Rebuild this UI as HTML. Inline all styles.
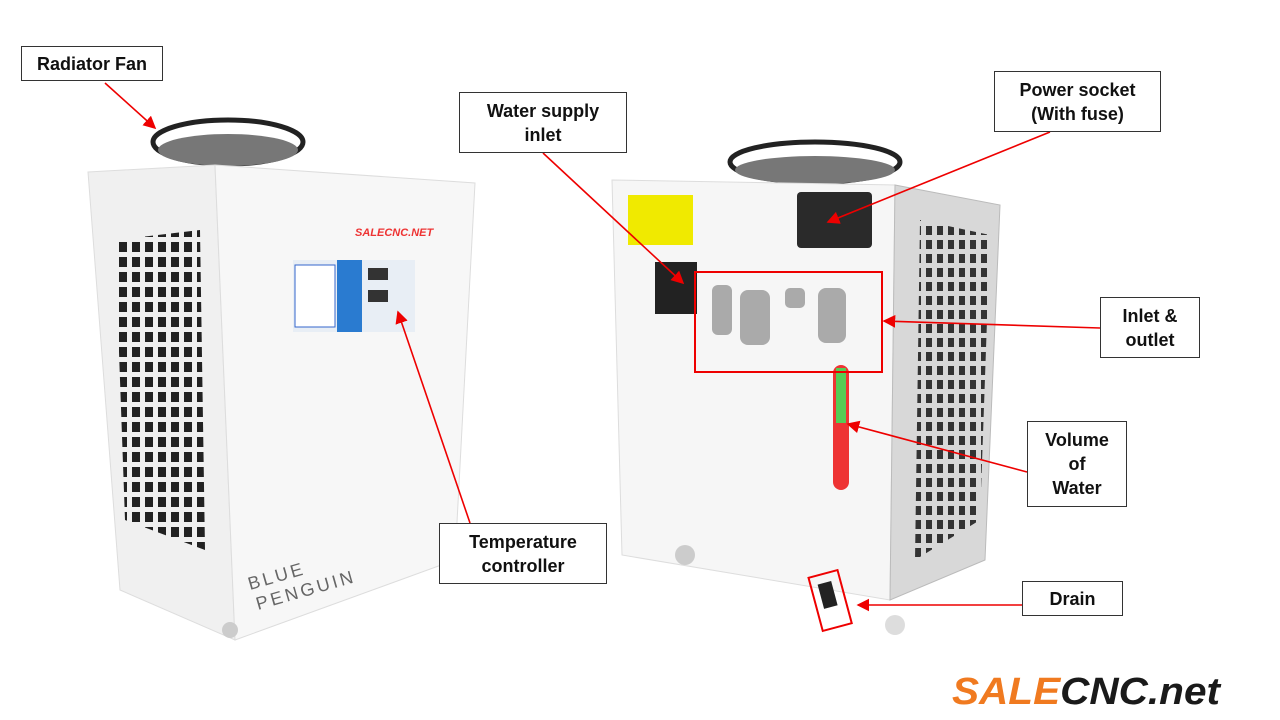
<!DOCTYPE html>
<html><head><meta charset="utf-8"><style>
body{margin:0;width:1280px;height:720px;background:#fff;overflow:hidden;font-family:"Liberation Sans",sans-serif}
svg{position:absolute;left:0;top:0}
.lb{position:absolute;border:1px solid #333;background:#fff;font-weight:bold;font-size:18px;color:#111;display:flex;align-items:center;justify-content:center;text-align:center;line-height:24px;box-sizing:border-box}
</style></head><body>
<svg width="1280" height="720" viewBox="0 0 1280 720">
<defs>
<pattern id="g" width="13" height="15" patternUnits="userSpaceOnUse"><rect x="2" y="2" width="8" height="10" fill="#222"/></pattern>
<pattern id="g2" width="11" height="14" patternUnits="userSpaceOnUse"><rect x="2" y="2" width="6" height="9" fill="#333"/></pattern>
<marker id="ar" markerWidth="8" markerHeight="8" refX="7" refY="4" orient="auto"><path d="M0,0 L8,4 L0,8 z" fill="#e00"/></marker>
</defs>
<!-- left unit -->
<ellipse cx="228" cy="142" rx="75" ry="22" fill="none" stroke="#222" stroke-width="5"/>
<ellipse cx="228" cy="150" rx="70" ry="16" fill="#777"/>
<polygon points="88,172 215,165 235,640 120,590" fill="#f0f0f0" stroke="#ddd"/>
<polygon points="215,165 475,183 455,560 235,640" fill="#f7f7f7" stroke="#ddd"/>
<polygon points="115,240 200,230 205,550 125,520" fill="url(#g)"/>
<rect x="293" y="260" width="122" height="72" fill="#e8eef5"/>
<rect x="295" y="265" width="40" height="62" fill="#fff" stroke="#36c"/>
<rect x="337" y="260" width="25" height="72" fill="#2a7bd0"/>
<rect x="368" y="268" width="20" height="12" fill="#333"/><rect x="368" y="290" width="20" height="12" fill="#333"/>
<text x="250" y="590" font-size="18" fill="#666" transform="rotate(-16 250 590)" letter-spacing="3">BLUE</text>
<text x="258" y="610" font-size="18" fill="#666" transform="rotate(-16 258 610)" letter-spacing="3">PENGUIN</text>
<text x="355" y="236" font-size="11" font-weight="bold" fill="#e33" font-style="italic">SALECNC.NET</text>
<!-- right unit -->
<ellipse cx="815" cy="162" rx="85" ry="20" fill="none" stroke="#222" stroke-width="5"/>
<ellipse cx="815" cy="170" rx="80" ry="14" fill="#777"/>
<polygon points="612,180 895,185 890,600 622,555" fill="#f6f6f6" stroke="#ddd"/>
<polygon points="895,185 1000,205 985,560 890,600" fill="#d8d8d8" stroke="#bbb"/>
<polygon points="920,220 990,235 980,520 915,560" fill="url(#g2)"/>
<rect x="628" y="195" width="65" height="50" fill="#f0ea00"/>
<rect x="655" y="262" width="42" height="52" fill="#222"/>
<rect x="797" y="192" width="75" height="56" rx="4" fill="#2a2a2a"/>
<g fill="#aaa"><rect x="712" y="285" width="20" height="50" rx="6"/><rect x="740" y="290" width="30" height="55" rx="8"/><rect x="785" y="288" width="20" height="20" rx="5"/><rect x="818" y="288" width="28" height="55" rx="8"/></g>
<rect x="833" y="365" width="16" height="125" rx="8" fill="#e33"/>
<rect x="836" y="368" width="10" height="55" fill="#5c5"/>
<circle cx="685" cy="555" r="10" fill="#ccc"/><circle cx="895" cy="625" r="10" fill="#ddd"/><circle cx="230" cy="630" r="8" fill="#ccc"/>
<!-- red boxes -->
<rect x="695" y="272" width="187" height="100" fill="none" stroke="#e00" stroke-width="2"/>
<rect x="815" y="573" width="30" height="55" fill="none" stroke="#e00" stroke-width="2" transform="rotate(-15 830 600)"/>
<rect x="822" y="582" width="14" height="25" fill="#222" transform="rotate(-15 830 600)"/>
<!-- arrows -->
<g stroke="#e00" stroke-width="1.6" fill="none" marker-end="url(#ar)">
<line x1="105" y1="83" x2="155" y2="128"/>
<line x1="543" y1="153" x2="683" y2="283"/>
<line x1="1050" y1="132" x2="828" y2="222"/>
<line x1="1100" y1="328" x2="884" y2="321"/>
<line x1="1027" y1="472" x2="848" y2="424"/>
<line x1="470" y1="523" x2="398" y2="312"/>
<line x1="1022" y1="605" x2="858" y2="605"/>
</g>
<text x="952" y="704" font-size="38" font-weight="bold" font-style="italic" textLength="268" lengthAdjust="spacingAndGlyphs"><tspan fill="#f07a20">SALE</tspan><tspan fill="#1a1a1a">CNC.net</tspan></text>
</svg>
<div class="lb" style="left:21px;top:46px;width:142px;height:35px">Radiator Fan</div>
<div class="lb" style="left:459px;top:92px;width:168px;height:61px">Water supply<br>inlet</div>
<div class="lb" style="left:994px;top:71px;width:167px;height:61px">Power socket<br>(With fuse)</div>
<div class="lb" style="left:1100px;top:297px;width:100px;height:61px">Inlet &amp;<br>outlet</div>
<div class="lb" style="left:1027px;top:421px;width:100px;height:86px">Volume<br>of<br>Water</div>
<div class="lb" style="left:439px;top:523px;width:168px;height:61px">Temperature<br>controller</div>
<div class="lb" style="left:1022px;top:581px;width:101px;height:35px">Drain</div>
</body></html>
